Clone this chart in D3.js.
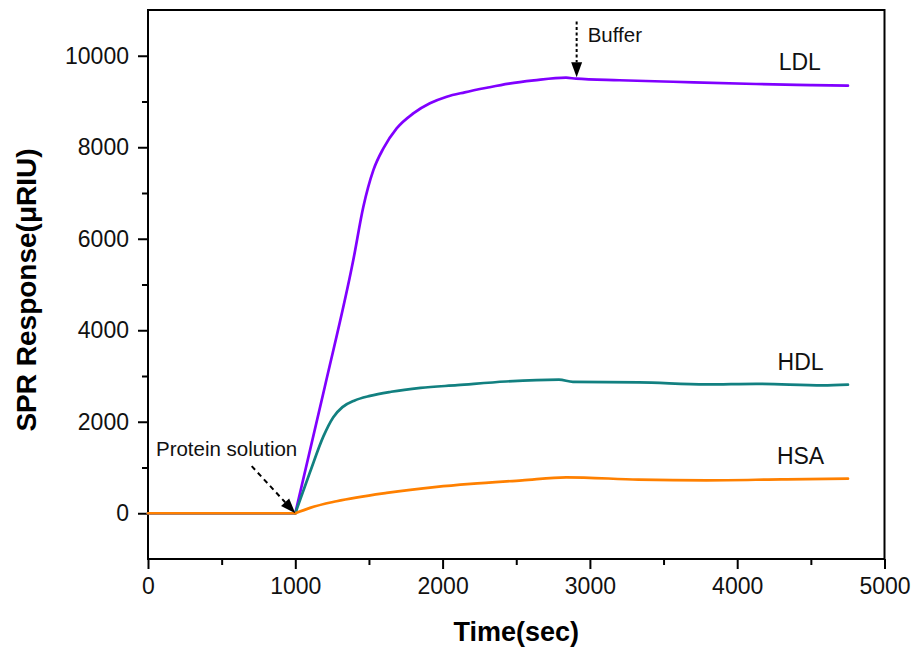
<!DOCTYPE html>
<html>
<head>
<meta charset="utf-8">
<script src="https://cdn.jsdelivr.net/npm/d3@7"></script>
<style>
  body { margin: 0; background: #fff; }
  text { font-family: Arial, "Liberation Sans", sans-serif; }
</style>
</head>
<body>
<div id="chart"></div>
<script>
// Time (sec) and SPR response (µRIU)
const ldlTime = [0, 1000, 1200, 1394, 1462, 1530, 1598, 1688, 1801, 1914, 2028, 2150, 2300, 2450, 2620, 2838, 2906, 3200, 3564, 4128, 4500, 4752];
const ldlValue = [0, 0, 2760, 5540, 6700, 7500, 7975, 8412, 8740, 8960, 9104, 9200, 9300, 9390, 9460, 9520, 9498, 9465, 9432, 9382, 9360, 9345];

const hdlTime = [0, 1000, 1100, 1190, 1258, 1320, 1400, 1507, 1650, 1850, 2100, 2430, 2790, 2885, 3333, 3788, 4128, 4582, 4752];
const hdlValue = [0, 0, 900, 1675, 2100, 2320, 2460, 2565, 2655, 2740, 2800, 2880, 2920, 2870, 2860, 2815, 2830, 2795, 2810];

const hsaTime = [0, 1000, 1100, 1280, 1620, 1960, 2190, 2540, 2840, 3330, 3790, 4300, 4752];
const hsaValue = [0, 0, 118, 262, 445, 576, 641, 720, 786, 736, 720, 740, 757];

const seriesNames = ["LDL", "HDL", "HSA"];
const seriesColors = ["#8000ff", "#128080", "#ff8000"];

const xMajor = [0, 1000, 2000, 3000, 4000, 5000];
const xMinor = [500, 1500, 2500, 3500, 4500];
const yMajor = [0, 2000, 4000, 6000, 8000, 10000];
const yMinor = [1000, 3000, 5000, 7000, 9000];

// label positions (time, response)
const seriesLabelPos = [[4425, 9690], [4430, 3130], [4430, 1076]];
const proteinArrow = {from: [704, 1030], to: [1000, 0], text: "Protein solution", textAt: [54, 1250]};
const bufferArrow = {from: [2910, 10750], to: [2910, 9530], text: "Buffer", textAt: [2985, 10300]};
const injectTime = 1000;

const series = [
  ldlTime.map((t, i) => ({t, v: ldlValue[i]})),
  hdlTime.map((t, i) => ({t, v: hdlValue[i]})),
  hsaTime.map((t, i) => ({t, v: hsaValue[i]}))
];

const margin = {top: 10, right: 31.5, bottom: 96, left: 148};
const width = 916 - margin.left - margin.right;
const height = 655 - margin.top - margin.bottom;

const svg = d3.select("#chart")
  .append("svg")
  .attr("width", 916)
  .attr("height", 655)
  .append("g")
  .attr("transform", `translate(${margin.left},${margin.top})`);

const x = d3.scaleLinear().domain([0, 5000]).range([0, width]);
const y = d3.scaleLinear().domain([-1000, 11000]).range([height, 0]);

// minor ticks
svg.append("g")
  .attr("transform", `translate(0,${height})`)
  .call(d3.axisBottom(x).tickValues(xMinor).tickSize(6).tickFormat(""))
  .selectAll("line").attr("stroke-width", 2);

svg.append("g")
  .call(d3.axisLeft(y).tickValues(yMinor).tickSize(6).tickFormat(""))
  .selectAll("line").attr("stroke-width", 2);

// major ticks
const xAxis = svg.append("g")
  .attr("transform", `translate(0,${height})`)
  .call(d3.axisBottom(x).tickValues(xMajor).tickFormat(d3.format("d"))
    .tickSize(10).tickPadding(9).tickSizeOuter(0));
xAxis.selectAll("line").attr("stroke-width", 2);
xAxis.selectAll("text").style("font-size", "23px").attr("fill", "#111");

const yAxis = svg.append("g")
  .call(d3.axisLeft(y).tickValues(yMajor).tickFormat(d3.format("d"))
    .tickSize(10).tickPadding(9).tickSizeOuter(0));
yAxis.selectAll("line").attr("stroke-width", 2);
yAxis.selectAll("text").style("font-size", "23px").attr("fill", "#111");

svg.selectAll(".domain").remove();

// frame
svg.append("rect")
  .attr("x", 0).attr("y", 0)
  .attr("width", width).attr("height", height)
  .attr("fill", "none")
  .attr("stroke", "#000")
  .attr("stroke-width", 2);

// lines: flat baseline straight, binding part smoothed
const flat = d3.line()
  .x(d => x(d.t))
  .y(d => y(d.v));

const smooth = d3.line()
  .x(d => x(d.t))
  .y(d => y(d.v))
  .curve(d3.curveMonotoneX);

series.forEach((s, i) => {
  const pre = s.filter(d => d.t <= injectTime);
  const post = s.filter(d => d.t >= injectTime);
  [[pre, flat], [post, smooth]].forEach(([data, gen]) => {
    svg.append("path")
      .datum(data)
      .attr("fill", "none")
      .attr("stroke", seriesColors[i])
      .attr("stroke-width", 2.7)
      .attr("stroke-linejoin", "round")
      .attr("stroke-linecap", "round")
      .attr("d", gen);
  });
});

// series labels
seriesNames.forEach((name, i) => {
  svg.append("text")
    .attr("x", x(seriesLabelPos[i][0]))
    .attr("y", y(seriesLabelPos[i][1]))
    .attr("text-anchor", "middle")
    .style("font-size", "23px")
    .attr("fill", "#111")
    .text(name);
});

// dashed arrows
function arrow(a, dash) {
  const x1 = x(a.from[0]), y1 = y(a.from[1]);
  const x2 = x(a.to[0]), y2 = y(a.to[1]);
  const ang = Math.atan2(y2 - y1, x2 - x1);
  const len = 15, half = 5.5;
  const bx = x2 - len * Math.cos(ang), by = y2 - len * Math.sin(ang);
  svg.append("line")
    .attr("x1", x1).attr("y1", y1)
    .attr("x2", bx).attr("y2", by)
    .attr("stroke", "#000")
    .attr("stroke-width", 2)
    .attr("stroke-dasharray", dash);
  const px = -Math.sin(ang) * half, py = Math.cos(ang) * half;
  svg.append("path")
    .attr("d", `M${x2},${y2}L${bx + px},${by + py}L${bx - px},${by - py}Z`)
    .attr("fill", "#000");
  svg.append("text")
    .attr("x", x(a.textAt[0]))
    .attr("y", y(a.textAt[1]))
    .style("font-size", "20.5px")
    .attr("fill", "#111")
    .text(a.text);
}
arrow(proteinArrow, "5,4");
arrow(bufferArrow, "3,2.5");

// axis titles
svg.append("text")
  .attr("x", width / 2)
  .attr("y", height + 82)
  .attr("text-anchor", "middle")
  .style("font-size", "27px")
  .style("font-weight", "bold")
  .text("Time(sec)");

svg.append("text")
  .attr("transform", `translate(${36 - margin.left},${290 - margin.top}) rotate(-90)`)
  .attr("text-anchor", "middle")
  .style("font-size", "28px")
  .style("font-weight", "bold")
  .text("SPR Response(μRIU)");
</script>
</body>
</html>
